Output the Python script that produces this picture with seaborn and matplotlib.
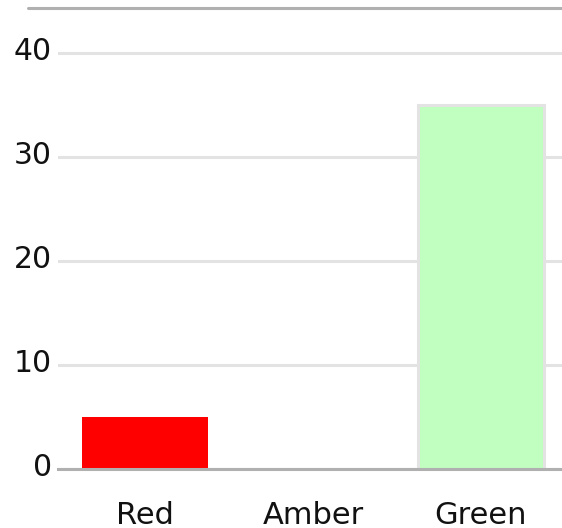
import pandas as pd
import numpy as np
import matplotlib
matplotlib.use('Agg')
import matplotlib.pyplot as plt
import seaborn as sns
from matplotlib.lines import Line2D
from matplotlib.transforms import ScaledTranslation

categories = ['Red', 'Amber', 'Green']
counts = [5, 0, 35]
bar_colors = ['#ff0000', '#ffbf00', '#c0ffc0']
edge_colors = ['none', 'none', '#e3e3e3']
yticks = [0, 10, 20, 30, 40]

df = pd.DataFrame({'status': categories, 'count': counts})

sns.set_style('white')
plt.rcParams['font.family'] = ['DejaVu Sans']

fig = plt.figure(figsize=(5.62, 5.28), dpi=100)
ax = fig.add_axes([58 / 562, 1 - 469 / 528, 504 / 562, (469 - 7.5) / 528])

sns.barplot(data=df, x='status', y='count', hue='status', palette=bar_colors,
            order=categories, width=0.75, legend=False, ax=ax, saturation=1)

for patch, ec in zip(ax.patches, edge_colors):
    if ec != 'none':
        patch.set_edgecolor(ec)
        patch.set_linewidth(2.2)
    else:
        patch.set_linewidth(0)

shift = 3 / 168
ax.set_xlim(-0.5 - shift, 2.5 - shift)
ax.set_ylim(0, 44.4)
ax.set_yticks(yticks)
ax.set_xlabel('')
ax.set_ylabel('')
ax.yaxis.grid(True, color='#e3e3e3', linewidth=2.2)
ax.set_axisbelow(True)
for s in ['top', 'right', 'left']:
    ax.spines[s].set_visible(False)
ax.spines['bottom'].set_color('#b0b0b0')
ax.spines['bottom'].set_linewidth(2.2)
ax.spines['bottom'].set_zorder(5)
ax.tick_params(axis='y', length=0, pad=4.5, labelsize=21.5, labelcolor='#111111')
ax.tick_params(axis='x', length=0, pad=23, labelsize=22, labelcolor='#111111')

# y labels sit a little above their gridlines
up = ScaledTranslation(0, 5 / 100, fig.dpi_scale_trans)
for lab in ax.get_yticklabels():
    lab.set_transform(lab.get_transform() + up)

fig.add_artist(Line2D([28 / 562, 1], [1 - 7.5 / 528, 1 - 7.5 / 528],
                      transform=fig.transFigure, color='#b0b0b0', linewidth=2.2))

fig.savefig('out.png', dpi=100)
